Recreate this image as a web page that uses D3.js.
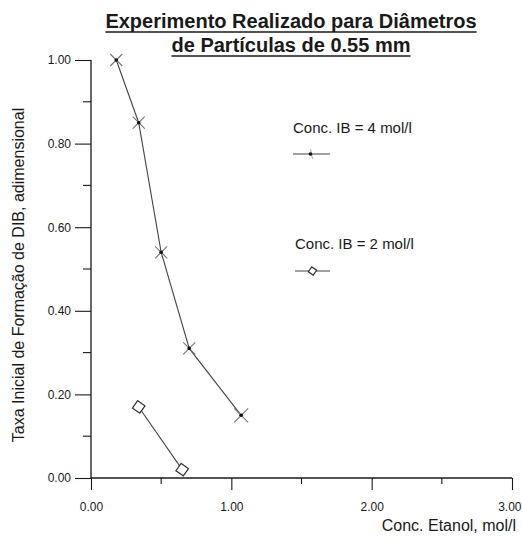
<!DOCTYPE html>
<html>
<head>
<meta charset="utf-8">
<script src="https://cdn.jsdelivr.net/npm/d3@7"></script>
<style>
  html, body { margin: 0; padding: 0; background: #fff; }
  svg { display: block; font-family: "Liberation Sans", Arial, sans-serif; }
</style>
</head>
<body>
<svg id="chart" width="522" height="542"></svg>
<script>
// Initial DIB formation rate vs ethanol concentration, particle diameter 0.55 mm
const titleLines = ["Experimento Realizado para Diâmetros", "de Partículas de 0.55 mm"];
const xTitle = "Conc. Etanol, mol/l";
const yTitle = "Taxa Inicial de Formação de DIB, adimensional";

// IB = 4 mol/l
const etanol4 = [0.18, 0.34, 0.50, 0.70, 1.07];
const taxa4   = [1.00, 0.85, 0.54, 0.31, 0.15];
// IB = 2 mol/l
const etanol2 = [0.34, 0.65];
const taxa2   = [0.17, 0.02];

const seriesNames = ["Conc. IB = 4 mol/l", "Conc. IB = 2 mol/l"];

const xMajorTicks = [0, 1, 2, 3];
const xMinorTicks = [0.5, 1.5, 2.5];
const yMajorTicks = [0, 0.2, 0.4, 0.6, 0.8, 1.0];
const yMinorTicks = [0.1, 0.3, 0.5, 0.7, 0.9];

const svg = d3.select("#chart");
const ink = "#1a1a1a";
const lineInk = "#444";

const x = d3.scaleLinear().domain([0, 3]).range([91, 512]);
const y = d3.scaleLinear().domain([0, 1]).range([478, 60]);

// Title, underlined
const titleY = [28, 52];
titleLines.forEach((t, i) => {
  const txt = svg.append("text")
    .attr("x", 291).attr("y", titleY[i])
    .attr("text-anchor", "middle")
    .attr("font-size", 20).attr("font-weight", "bold")
    .attr("fill", ink)
    .text(t);
  const bb = txt.node().getBBox();
  svg.append("line")
    .attr("x1", bb.x).attr("x2", bb.x + bb.width)
    .attr("y1", titleY[i] + 4).attr("y2", titleY[i] + 4)
    .attr("stroke", ink).attr("stroke-width", 1.6);
});

// Axes
const xAxis = d3.axisBottom(x).tickValues(xMajorTicks)
  .tickFormat(d3.format(".2f")).tickSize(12).tickPadding(12);
const gx = svg.append("g").attr("transform", `translate(0,${y(0)})`).call(xAxis);
gx.append("g").selectAll("line").data(xMinorTicks).join("line")
  .attr("x1", d => x(d)).attr("x2", d => x(d))
  .attr("y1", 0).attr("y2", 6);

const yAxis = d3.axisLeft(y).tickValues(yMajorTicks)
  .tickFormat(d3.format(".2f")).tickSize(16).tickPadding(4);
const gy = svg.append("g").attr("transform", `translate(${x(0)},0)`).call(yAxis);
gy.append("g").selectAll("line").data(yMinorTicks).join("line")
  .attr("x1", 0).attr("x2", -8)
  .attr("y1", d => y(d)).attr("y2", d => y(d));

[gx, gy].forEach(g => {
  g.select(".domain").attr("stroke", ink).attr("stroke-width", 1.3);
  g.selectAll("line").attr("stroke", ink).attr("stroke-width", 1.1);
  g.selectAll("text").attr("fill", ink)
    .attr("font-size", 12)
    .attr("font-family", "'Liberation Sans', Arial, sans-serif");
});
gx.select(".domain").attr("d", `M${x(0)},0H${x(3)}`);
gy.select(".domain").attr("d", `M0,${y(1)}V${y(0)}`);
// last x label sits against the right edge
gx.selectAll(".tick text").filter(d => d === 3)
  .attr("text-anchor", "end").attr("dx", 9);

// Axis titles
svg.append("text")
  .attr("x", 516).attr("y", 531)
  .attr("text-anchor", "end")
  .attr("font-size", 16).attr("fill", ink)
  .text(xTitle);

svg.append("text")
  .attr("transform", "translate(24,275) rotate(-90)")
  .attr("text-anchor", "middle")
  .attr("font-size", 16).attr("fill", ink)
  .text(yTitle);

// Series
const line = d3.line().x(d => x(d[0])).y(d => y(d[1]));
const pts4 = etanol4.map((v, i) => [v, taxa4[i]]);
const pts2 = etanol2.map((v, i) => [v, taxa2[i]]);

svg.append("path").datum(pts4).attr("d", line)
  .attr("fill", "none").attr("stroke", lineInk).attr("stroke-width", 1.1);
svg.append("path").datum(pts2).attr("d", line)
  .attr("fill", "none").attr("stroke", lineInk).attr("stroke-width", 1.1);

function crossMark(g, cx, cy, r) {
  g.append("path")
    .attr("d", `M${cx - r},${cy - r}L${cx + r},${cy + r}M${cx - r},${cy + r}L${cx + r},${cy - r}`)
    .attr("stroke", "#777").attr("stroke-width", 1.1).attr("fill", "none");
  g.append("circle").attr("cx", cx).attr("cy", cy).attr("r", 1.8).attr("fill", "#111");
}
function diamondMark(g, cx, cy, s) {
  g.append("rect")
    .attr("x", -s / 2).attr("y", -s / 2).attr("width", s).attr("height", s)
    .attr("transform", `translate(${cx},${cy}) rotate(35)`)
    .attr("fill", "#fff").attr("stroke", "#333").attr("stroke-width", 1.2);
}

const marks = svg.append("g");
pts4.forEach((d, i) => crossMark(marks, x(d[0]), y(d[1]), i === pts4.length - 1 ? 7 : 6));
pts2.forEach(d => diamondMark(marks, x(d[0]), y(d[1]), 9));

// Legend
const legend = [
  { name: seriesNames[0], tx: 293, ty: 133, ly: 154, lx1: 293, lx2: 330, kind: "cross" },
  { name: seriesNames[1], tx: 295, ty: 249, ly: 271, lx1: 295, lx2: 330, kind: "diamond" }
];
legend.forEach(l => {
  svg.append("text").attr("x", l.tx).attr("y", l.ty)
    .attr("font-size", 15).attr("fill", ink).text(l.name);
  svg.append("line").attr("x1", l.lx1).attr("x2", l.lx2)
    .attr("y1", l.ly).attr("y2", l.ly)
    .attr("stroke", lineInk).attr("stroke-width", 1.1);
  const cx = (l.lx1 + l.lx2) / 2;
  if (l.kind === "cross") {
    svg.append("line").attr("x1", cx - 1).attr("x2", cx + 1)
      .attr("y1", l.ly - 5).attr("y2", l.ly + 5)
      .attr("stroke", "#999").attr("stroke-width", 0.8);
    svg.append("circle").attr("cx", cx - 1).attr("cy", l.ly).attr("r", 1.8).attr("fill", "#111");
  } else {
    diamondMark(svg, cx, l.ly, 6);
  }
});
</script>
</body>
</html>
